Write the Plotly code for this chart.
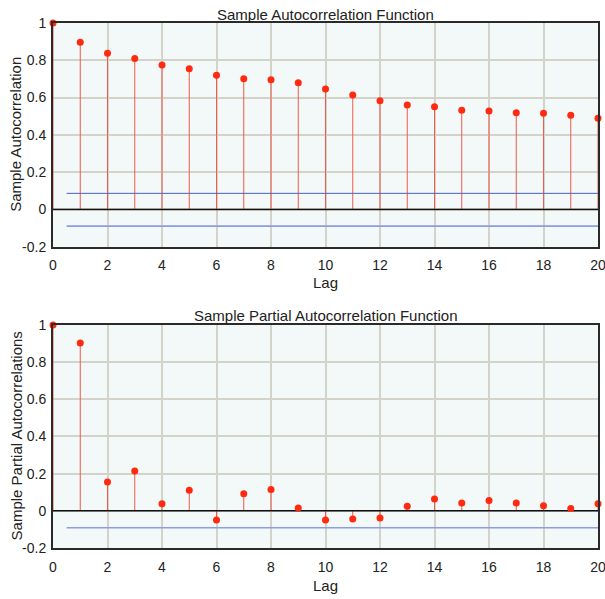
import plotly.graph_objects as go
from plotly.subplots import make_subplots

lags = list(range(0, 21))
acf_values = [1.0, 0.897, 0.838, 0.809, 0.775, 0.755, 0.720, 0.701, 0.696, 0.680, 0.646,
              0.614, 0.583, 0.560, 0.551, 0.532, 0.528, 0.519, 0.516, 0.505, 0.489]
pacf_values = [1.0, 0.902, 0.155, 0.214, 0.038, 0.110, -0.050, 0.092, 0.115, 0.015, -0.050,
               -0.044, -0.039, 0.024, 0.063, 0.042, 0.056, 0.042, 0.027, 0.013, 0.038]
acf_bounds = [0.086, -0.090]
pacf_bounds = [-0.091]
bound_x = [0.5, 20]
x_ticks = list(range(0, 21, 2))
y_ticks = [-0.2, 0, 0.2, 0.4, 0.6, 0.8, 1]
y_tick_text = ["-0.2", "0", "0.2", "0.4", "0.6", "0.8", "1"]

FONT = "Liberation Sans, Arial, sans-serif"
RED = "#ff2a10"
STEM = "#f25a4a"
TXT = "#222222"

fig = make_subplots(rows=2, cols=1)


def stems(xs, ys):
    sx, sy = [], []
    for x, y in zip(xs, ys):
        sx += [x, x, None]
        sy += [0, y, None]
    return sx, sy


for row, vals, bounds in [(1, acf_values, acf_bounds), (2, pacf_values, pacf_bounds)]:
    sx, sy = stems(lags, vals)
    fig.add_trace(go.Scatter(x=sx, y=sy, mode="lines",
                             line=dict(color=STEM, width=1), showlegend=False,
                             hoverinfo="skip"), row=row, col=1)
    for b in bounds:
        col = "#4b5fcf" if b > 0 else "#8a9de6"
        w = 1 if b > 0 else 1.6
        fig.add_trace(go.Scatter(x=bound_x, y=[b, b], mode="lines",
                                 line=dict(color=col, width=w), showlegend=False),
                      row=row, col=1)
    fig.add_trace(go.Scatter(x=[0, 20], y=[0, 0], mode="lines",
                             line=dict(color="#111111", width=1.5), showlegend=False),
                  row=row, col=1)
    fig.add_trace(go.Scatter(x=lags, y=vals, mode="markers",
                             marker=dict(color=RED, size=7), showlegend=False,
                             cliponaxis=False), row=row, col=1)

for row in (1, 2):
    fig.update_xaxes(range=[0, 20], tickvals=x_ticks, showgrid=True,
                     gridcolor="#d3d3ca", gridwidth=2, zeroline=False,
                     showline=True, linecolor="#2a2a2a", linewidth=2, mirror=True,
                     ticks="", ticklabelstandoff=5, automargin=False,
                     ticklabeloverflow="allow",
                     tickfont=dict(size=14, color=TXT, family=FONT),
                     row=row, col=1)
    fig.update_yaxes(range=[-0.2, 1], tickvals=y_ticks, ticktext=y_tick_text,
                     showgrid=True, gridcolor="#d3d3ca", gridwidth=2, zeroline=False,
                     showline=True, linecolor="#2a2a2a", linewidth=2, mirror=True,
                     ticks="", ticklabelstandoff=2, automargin=False,
                     ticklabeloverflow="allow",
                     tickfont=dict(size=14, color=TXT, family=FONT),
                     row=row, col=1)

ann_font = dict(size=15, color=TXT, family=FONT)
fig.update_layout(
    width=605, height=599,
    margin=dict(l=53, r=7, t=23, b=51),
    paper_bgcolor="white",
    plot_bgcolor="#f3f8f8",
    font=dict(family=FONT, color=TXT),
    hovermode=False,
    annotations=[
        dict(text="Sample Autocorrelation Function", x=0.5, y=1.0, xref="paper",
             yref="paper", xanchor="center", yanchor="bottom", showarrow=False,
             font=ann_font, yshift=-2),
        dict(text="Sample Partial Autocorrelation Function", x=0.5, y=0.425, xref="paper",
             yref="paper", xanchor="center", yanchor="bottom", showarrow=False,
             font=ann_font, yshift=-1),
        dict(text="Lag", x=0.5, y=0.5048, xref="paper", yref="paper",
             xanchor="center", yanchor="middle", showarrow=False, font=ann_font),
        dict(text="Lag", x=0.5, y=-0.0705, xref="paper", yref="paper",
             xanchor="center", yanchor="middle", showarrow=False, font=ann_font),
        dict(text="Sample Autocorrelation", x=0, y=0.787, xref="paper", yref="paper",
             xanchor="center", yanchor="middle", showarrow=False, textangle=-90,
             xshift=-37, font=ann_font),
        dict(text="Sample Partial Autocorrelations", x=0, y=0.2125, xref="paper",
             yref="paper", xanchor="center", yanchor="middle", showarrow=False,
             textangle=-90, xshift=-37, font=ann_font),
    ],
)
fig.layout.yaxis.domain = [0.574, 1.0]
fig.layout.yaxis2.domain = [0.0, 0.425]

fig.write_html("out.html", config={"displayModeBar": False},
               post_script="document.body.style.margin='0';document.body.style.padding='0';"
                           "document.documentElement.style.overflow='hidden';")
